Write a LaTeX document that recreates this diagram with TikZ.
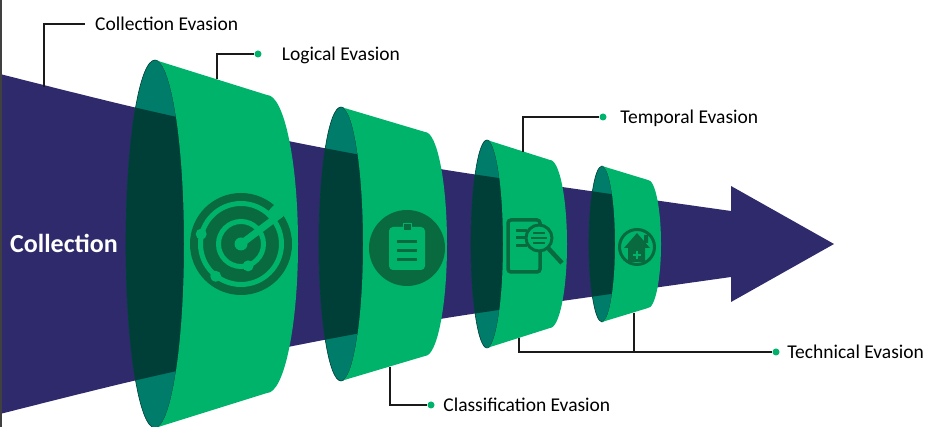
\documentclass[tikz,border=0pt]{standalone}
\usepackage{fontspec}
\setmainfont{Carlito}
\usepackage{xcolor}
\usetikzlibrary{positioning}
\definecolor{shaft}{HTML}{2E2A6B}
\definecolor{ringgreen}{HTML}{00B36B}
\definecolor{ringteal}{HTML}{007D6A}
\definecolor{ringdark}{HTML}{003F37}
\definecolor{icongreen}{HTML}{096A3F}
\definecolor{linegray}{HTML}{1A1A1A}

\begin{document}
\begin{tikzpicture}[x=1pt,y=1pt,
  leader/.style={draw=linegray,line width=1.6pt},
  tip/.style={circle,fill=ringgreen,inner sep=0pt,minimum size=7pt},
  lbl/.style={font=\fontsize{19.5}{22}\selectfont,inner sep=0pt,text height=13pt,text depth=0pt}]
\useasboundingbox (0,0) rectangle (945,427);
\def\shaftpath{plot[smooth] coordinates{(0,353)(133,320)(288,286)(440,258)(590,236)(731,216)}
  -- (731,241) -- (834,183) -- (731,125)
  -- plot[smooth] coordinates{(731,150)(590,130)(440,108)(288,80)(133,46)(0,13)} -- cycle}
\fill[shaft] \shaftpath;
\draw[line width=2pt,black!75] (1,0) -- (1,427);
% rings
\foreach \xa/\ya/\rxa/\xb/\yb/\rxb in {155/184/29/267/149/31,341/137/22/425/112/22,487/104/16/550/84/17,602/78/13/648/64/13}{
  \fill[ringteal] (\xa,183) ellipse[x radius=\rxa pt,y radius=\ya pt];
  \begin{scope}
    \clip (\xa,183) ellipse[x radius=\rxa pt,y radius=\ya pt];
    \fill[ringdark] \shaftpath;
  \end{scope}
  \draw[ringdark,line width=.6pt] (\xa,183) ellipse[x radius=\rxa pt,y radius=\ya pt];
  \fill[ringgreen] (\xa,183+\ya) -- (\xb,183+\yb)
    arc[start angle=90,end angle=-90,x radius=\rxb pt,y radius=\yb pt] -- (\xa,183-\ya)
    arc[start angle=-90,end angle=90,x radius=\rxa pt,y radius=\ya pt] -- cycle;
}
% radar
\fill[icongreen] (241,183) circle (51pt);
\draw[ringgreen,line width=5pt] (241,183) circle (40.5pt) (241,183) circle (22.5pt);
\draw[ringgreen,line width=9pt] (241,183) ++(36:47) arc[start angle=36,end angle=50,radius=47pt];
\draw[ringgreen,line width=7pt,line cap=round] (241,183) -- ++(37:50);
\fill[ringgreen] (241,183) circle (6.5pt) ++(166:41) circle (5.5pt);
\fill[ringgreen] (241,183) ++(232:41) circle (5.5pt) (241,183) ++(-72:23) circle (5.5pt);
% clipboard
\fill[icongreen] (407,179) circle (38pt);
\fill[ringgreen,rounded corners=4pt] (389,157) rectangle (425,200);
\draw[icongreen,line width=3pt] (397,185) -- (417,185) (397,176) -- (417,176) (397,167) -- (417,167);
\filldraw[fill=icongreen,draw=ringgreen,line width=1pt] (403,196) rectangle (411,203);
% document and lens
\draw[icongreen,line width=3.5pt,rounded corners=3pt] (508,155) rectangle (540,207);
\draw[icongreen,line width=3pt] (516,196) -- (527,196) (516,189) -- (527,189) (516,181) -- (527,181);
\filldraw[fill=ringgreen,draw=icongreen,line width=3pt] (539,189) circle (13pt);
\draw[icongreen,line width=2.5pt] (533,194) -- (545,194) (531,189) -- (547,189) (533,184) -- (545,184);
\draw[icongreen,line width=4.5pt] (548,179) -- (562,164);
% house
\draw[icongreen,line width=3pt] (637,180) circle (17.5pt);
\fill[icongreen] (624,179) -- (637,194) -- (650,179) -- cycle (628,165) rectangle (645,179) (644,184) rectangle (648,192);
\draw[ringgreen,line width=2pt] (633,172) -- (641,172) (637,168) -- (637,176);
\node[font=\bfseries\fontsize{26}{30}\selectfont,text=white,anchor=base west,inner sep=0pt] (coll) at (10,174) {Collection};
% callouts
\coordinate (ce-a) at (44,340);
\coordinate (ce-b) at (85,403);
\draw[leader] (ce-a) |- (ce-b);
\node[lbl,right=10pt of ce-b] (ce-lab) {Collection Evasion};
\coordinate (le-a) at (217,348);
\node[tip] (le-dot) at (258,373) {};
\draw[leader] (le-a) |- (le-dot);
\node[lbl,right=20pt of le-dot] (le-lab) {Logical Evasion};
\coordinate (cl-a) at (390,60);
\node[tip] (cl-dot) at (431,22) {};
\draw[leader] (cl-a) |- (cl-dot);
\node[lbl,right=8.5pt of cl-dot] (cl-lab) {Classification Evasion};
\coordinate (tm-a) at (523,275);
\node[tip] (tm-dot) at (603,310) {};
\draw[leader] (tm-a) |- (tm-dot);
\node[lbl,right=13.5pt of tm-dot] (tm-lab) {Temporal Evasion};
\coordinate (tc-a) at (519,89);
\coordinate (tc-b) at (634,114);
\node[tip] (tc-dot) at (776,75) {};
\draw[leader] (tc-a) |- (tc-dot);
\draw[leader] (tc-b) |- (tc-dot);
\node[lbl,right=7.5pt of tc-dot] (tc-lab) {Technical Evasion};
\end{tikzpicture}
\end{document}
